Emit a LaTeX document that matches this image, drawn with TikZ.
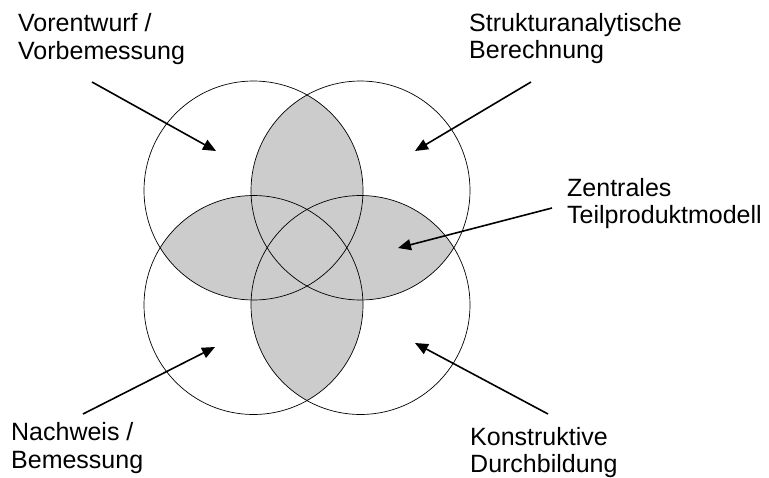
\documentclass[tikz,border=0pt]{standalone}
\usepackage{fontspec}
\setmainfont{Liberation Sans}
\usetikzlibrary{arrows.meta}
\begin{document}
\begin{tikzpicture}[x=1pt,y=-1pt,
  circ/.style={draw=black,line width=0.7pt},
  lens/.style={fill=black!20},
  arr/.style={line width=1.6pt,-{Triangle[length=13pt,width=11pt]}},
  lbl/.style={anchor=base west,inner sep=0pt,align=left,font=\fontsize{25}{27.5}\selectfont}]
\useasboundingbox (0,0) rectangle (769,477);
\def\R{109.5pt}
\coordinate (tl) at (253.5,190.5);
\coordinate (tr) at (360.5,190.5);
\coordinate (bl) at (253.5,305);
\coordinate (br) at (360.5,305);
\foreach \a/\b in {tl/tr,bl/br,tl/bl,tr/br,tl/br,tr/bl}{
  \begin{scope}
    \clip (\a) circle[radius=\R];
    \fill[lens] (\b) circle[radius=\R];
  \end{scope}
}
\foreach \c in {tl,tr,bl,br}{
  \draw[circ] (\c) circle[radius=\R];
}
\node[lbl] (t1) at (18,59.3) {Vorentwurf /\\Vorbemessung};
\node[lbl] (t2) at (469,58.5) {Strukturanalytische\\Berechnung};
\node[lbl] (t3) at (567,223.5) {Zentrales\\Teilproduktmodell};
\node[lbl] (t4) at (11,468) {Nachweis /\\Bemessung};
\node[lbl] (t5) at (470,472.5) {Konstruktive\\Durchbildung};
\coordinate (a1s) at (92,82);  \coordinate (a1e) at (216,151);
\coordinate (a2s) at (531,82); \coordinate (a2e) at (415,151);
\coordinate (a3s) at (552,208); \coordinate (a3e) at (398,248);
\coordinate (a4s) at (83,414); \coordinate (a4e) at (215,347);
\coordinate (a5s) at (548,414); \coordinate (a5e) at (415,343);
\draw[arr] (a1s) -- (a1e);
\draw[arr] (a2s) -- (a2e);
\draw[arr] (a3s) -- (a3e);
\draw[arr] (a4s) -- (a4e);
\draw[arr] (a5s) -- (a5e);
\end{tikzpicture}
\end{document}
